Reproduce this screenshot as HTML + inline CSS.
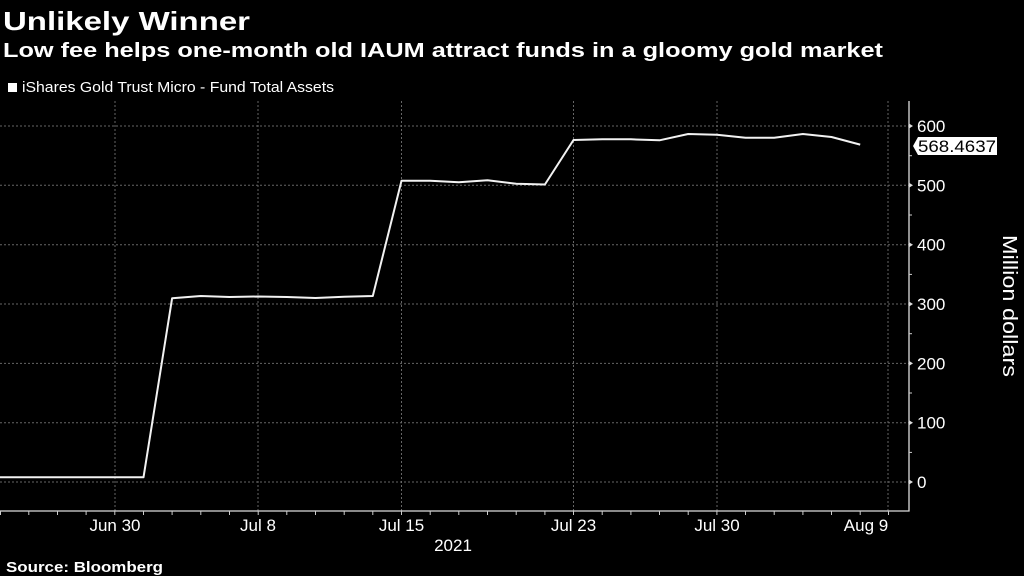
<!DOCTYPE html>
<html><head><meta charset="utf-8"><style>
html,body{margin:0;padding:0;background:#000;width:1024px;height:576px;overflow:hidden}
svg{display:block}
text{font-family:"Liberation Sans","DejaVu Sans",sans-serif;fill:#fff}
</style></head><body>
<svg width="1024" height="576" viewBox="0 0 1024 576" xmlns="http://www.w3.org/2000/svg">
<rect width="1024" height="576" fill="#000"/>
<text x="3" y="30" font-size="26" font-weight="bold" textLength="247" lengthAdjust="spacingAndGlyphs">Unlikely Winner</text>
<text x="3" y="57" font-size="20" font-weight="bold" textLength="880" lengthAdjust="spacingAndGlyphs">Low fee helps one-month old IAUM attract funds in a gloomy gold market</text>
<rect x="8" y="83" width="9" height="9" fill="#fff"/>
<text x="22" y="92" font-size="15" fill="#ddd" textLength="312" lengthAdjust="spacingAndGlyphs">iShares Gold Trust Micro - Fund Total Assets</text>

<g stroke="#666" stroke-width="1" stroke-dasharray="2,2">
<line x1="0" y1="126" x2="909" y2="126"/>
<line x1="0" y1="185.3" x2="909" y2="185.3"/>
<line x1="0" y1="244.7" x2="909" y2="244.7"/>
<line x1="0" y1="304" x2="909" y2="304"/>
<line x1="0" y1="363.4" x2="909" y2="363.4"/>
<line x1="0" y1="422.7" x2="909" y2="422.7"/>
<line x1="0" y1="482" x2="909" y2="482"/>
<line x1="115" y1="101" x2="115" y2="511"/>
<line x1="258" y1="101" x2="258" y2="511"/>
<line x1="401.5" y1="101" x2="401.5" y2="511"/>
<line x1="573.5" y1="101" x2="573.5" y2="511"/>
<line x1="717" y1="101" x2="717" y2="511"/>
<line x1="888" y1="101" x2="888" y2="511"/>
</g>

<polyline fill="none" stroke="#f2f2f2" stroke-width="2" stroke-linejoin="round" points="-28.5,477.3 0.1,477.3 28.8,477.3 57.5,477.3 86.1,477.3 114.8,477.3 143.5,477.3 172.1,298.3 200.8,296 229.5,297 258.2,296.5 286.8,297 315.5,298 344.2,296.8 372.8,296 401.5,180.7 430.2,180.7 458.8,182.3 487.5,180.3 516.2,183.7 544.9,184.5 573.5,140 602.2,139.3 630.9,139.3 659.5,140.3 688.2,134 716.9,134.7 745.5,137.7 774.2,137.7 802.9,134 831.5,137 860.2,144.6"/>

<g stroke="#ddd" stroke-width="1.3">
<line x1="0" y1="511" x2="909.5" y2="511"/>
<line x1="909" y1="101" x2="909" y2="511.5"/>
</g>
<g stroke="#ccc" stroke-width="1">
<line x1="0.5" y1="511" x2="0.5" y2="515"/>
<line x1="28.8" y1="511" x2="28.8" y2="515"/>
<line x1="57.5" y1="511" x2="57.5" y2="515"/>
<line x1="86.1" y1="511" x2="86.1" y2="515"/>
<line x1="114.8" y1="511" x2="114.8" y2="515"/>
<line x1="143.5" y1="511" x2="143.5" y2="515"/>
<line x1="172.1" y1="511" x2="172.1" y2="515"/>
<line x1="200.8" y1="511" x2="200.8" y2="515"/>
<line x1="229.5" y1="511" x2="229.5" y2="515"/>
<line x1="258.2" y1="511" x2="258.2" y2="515"/>
<line x1="286.8" y1="511" x2="286.8" y2="515"/>
<line x1="315.5" y1="511" x2="315.5" y2="515"/>
<line x1="344.2" y1="511" x2="344.2" y2="515"/>
<line x1="372.8" y1="511" x2="372.8" y2="515"/>
<line x1="401.5" y1="511" x2="401.5" y2="515"/>
<line x1="430.2" y1="511" x2="430.2" y2="515"/>
<line x1="458.8" y1="511" x2="458.8" y2="515"/>
<line x1="487.5" y1="511" x2="487.5" y2="515"/>
<line x1="516.2" y1="511" x2="516.2" y2="515"/>
<line x1="544.9" y1="511" x2="544.9" y2="515"/>
<line x1="573.5" y1="511" x2="573.5" y2="515"/>
<line x1="602.2" y1="511" x2="602.2" y2="515"/>
<line x1="630.9" y1="511" x2="630.9" y2="515"/>
<line x1="659.5" y1="511" x2="659.5" y2="515"/>
<line x1="688.2" y1="511" x2="688.2" y2="515"/>
<line x1="716.9" y1="511" x2="716.9" y2="515"/>
<line x1="745.5" y1="511" x2="745.5" y2="515"/>
<line x1="774.2" y1="511" x2="774.2" y2="515"/>
<line x1="802.9" y1="511" x2="802.9" y2="515"/>
<line x1="831.5" y1="511" x2="831.5" y2="515"/>
<line x1="860.2" y1="511" x2="860.2" y2="515"/>
<line x1="888.5" y1="511" x2="888.5" y2="515"/>
<line x1="909" y1="155.7" x2="912" y2="155.7"/>
<line x1="909" y1="215" x2="912" y2="215"/>
<line x1="909" y1="274.4" x2="912" y2="274.4"/>
<line x1="909" y1="333.7" x2="912" y2="333.7"/>
<line x1="909" y1="393" x2="912" y2="393"/>
<line x1="909" y1="452.4" x2="912" y2="452.4"/>
</g>
<g fill="#ddd">
<polygon points="909,123.5 913,126 909,128.5"/>
<polygon points="909,182.8 913,185.3 909,187.8"/>
<polygon points="909,242.2 913,244.7 909,247.2"/>
<polygon points="909,301.5 913,304 909,306.5"/>
<polygon points="909,360.9 913,363.4 909,365.9"/>
<polygon points="909,420.2 913,422.7 909,425.2"/>
<polygon points="909,479.5 913,482 909,484.5"/>
</g>

<g font-size="17" fill="#e6e6e6">
<text x="917" y="132">600</text>
<text x="917" y="191.3">500</text>
<text x="917" y="250.7">400</text>
<text x="917" y="310">300</text>
<text x="917" y="369.4">200</text>
<text x="917" y="428.7">100</text>
<text x="917" y="488">0</text>
</g>

<polygon points="913,146 918,137 997,137 997,155 918,155" fill="#fff"/>
<text x="918" y="152" font-size="17" fill="#000" style="fill:#000" textLength="78" lengthAdjust="spacingAndGlyphs">568.4637</text>

<text transform="translate(1003,306) rotate(90)" text-anchor="middle" font-size="20" fill="#e6e6e6" textLength="142" lengthAdjust="spacingAndGlyphs">Million dollars</text>

<g font-size="17" fill="#e6e6e6" text-anchor="middle">
<text x="115" y="531">Jun 30</text>
<text x="258" y="531">Jul 8</text>
<text x="401.5" y="531">Jul 15</text>
<text x="573.5" y="531">Jul 23</text>
<text x="717" y="531">Jul 30</text>
<text x="866" y="531">Aug 9</text>
<text x="453" y="551">2021</text>
</g>

<text x="6" y="572" font-size="15" font-weight="bold" textLength="157" lengthAdjust="spacingAndGlyphs">Source: Bloomberg</text>
</svg>
</body></html>
